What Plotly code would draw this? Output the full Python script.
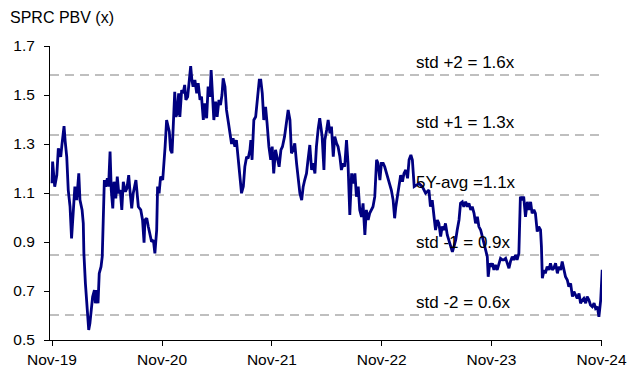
import plotly.graph_objects as go

dates = [
"2019-11-01","2019-11-03","2019-11-10","2019-11-17","2019-11-22","2019-11-30","2019-12-04","2019-12-11","2019-12-15","2019-12-20",
"2019-12-25","2019-12-31","2020-01-05","2020-01-11","2020-01-16","2020-01-22","2020-01-29","2020-02-02","2020-02-09","2020-02-13",
"2020-02-15","2020-02-20","2020-02-24","2020-02-28","2020-03-02","2020-03-06","2020-03-11","2020-03-15","2020-03-21","2020-03-24",
"2020-03-28","2020-04-02","2020-04-06","2020-04-12","2020-04-16","2020-04-19","2020-04-23","2020-04-27","2020-05-03","2020-05-07",
"2020-05-12","2020-05-16","2020-05-21","2020-05-25","2020-05-31","2020-06-05","2020-06-10","2020-06-15","2020-06-20","2020-06-25",
"2020-07-02","2020-07-07","2020-07-13","2020-07-17","2020-07-23","2020-07-28","2020-08-06","2020-08-14","2020-08-22","2020-08-28",
"2020-09-02","2020-09-05","2020-09-11","2020-09-16","2020-09-22","2020-09-27","2020-10-03","2020-10-08","2020-10-14","2020-10-17",
"2020-10-22","2020-10-27","2020-11-03","2020-11-07","2020-11-11","2020-11-16","2020-11-20","2020-11-25","2020-11-29","2020-12-04",
"2020-12-08","2020-12-13","2020-12-17","2020-12-21","2020-12-26","2020-12-30","2021-01-05","2021-01-10","2021-01-15","2021-01-19",
"2021-01-25","2021-01-30","2021-02-04","2021-02-08","2021-02-12","2021-02-18","2021-02-24","2021-03-01","2021-03-07","2021-03-12",
"2021-03-18","2021-03-23","2021-03-29","2021-04-03","2021-04-09","2021-04-13","2021-04-18","2021-04-22","2021-04-28","2021-05-03",
"2021-05-09","2021-05-14","2021-05-19","2021-05-23","2021-05-29","2021-06-03","2021-06-09","2021-06-14","2021-06-20","2021-06-25",
"2021-07-01","2021-07-06","2021-07-12","2021-07-18","2021-07-23","2021-07-29","2021-08-03","2021-08-09","2021-08-14","2021-08-20",
"2021-08-23","2021-08-27","2021-09-02","2021-09-08","2021-09-13","2021-09-20","2021-09-25","2021-09-30","2021-10-05","2021-10-11",
"2021-10-16","2021-10-22","2021-10-28","2021-11-02","2021-11-07","2021-11-13","2021-11-18","2021-11-25","2021-12-01","2021-12-06",
"2021-12-13","2021-12-20","2021-12-25","2021-12-31","2022-01-05","2022-01-11","2022-01-16","2022-01-22","2022-01-27","2022-02-02",
"2022-02-08","2022-02-13","2022-02-18","2022-02-24","2022-03-01","2022-03-07","2022-03-13","2022-03-18","2022-03-24","2022-03-29",
"2022-04-04","2022-04-09","2022-04-15","2022-04-17","2022-04-23","2022-04-26","2022-05-02","2022-05-07","2022-05-13","2022-05-18",
"2022-05-24","2022-05-29","2022-06-04","2022-06-09","2022-06-15","2022-06-20","2022-06-26","2022-07-01","2022-07-07","2022-07-12",
"2022-07-18","2022-07-24","2022-07-29","2022-08-04","2022-08-09","2022-08-15","2022-08-20","2022-08-26","2022-08-31","2022-09-06",
"2022-09-11","2022-09-17","2022-09-22","2022-09-28","2022-10-03","2022-10-09","2022-10-15","2022-10-20","2022-10-26","2022-10-31",
"2022-11-06","2022-11-11","2022-11-17","2022-11-22","2022-11-28","2022-12-03","2022-12-09","2022-12-14","2022-12-18","2022-12-23",
"2022-12-29","2023-01-03","2023-01-09","2023-01-14","2023-01-20","2023-01-26","2023-01-31","2023-02-06","2023-02-11","2023-02-17",
"2023-03-05","2023-03-16","2023-03-27","2023-04-07","2023-04-12","2023-04-18","2023-04-24","2023-04-29","2023-05-05","2023-05-10",
"2023-05-16","2023-05-21","2023-05-27","2023-06-01","2023-06-07","2023-06-12","2023-06-18","2023-06-24","2023-06-29","2023-07-05",
"2023-07-10","2023-07-16","2023-07-21","2023-07-27","2023-08-01","2023-08-07","2023-08-13","2023-08-18","2023-08-24","2023-08-29",
"2023-09-04","2023-09-09","2023-09-15","2023-09-20","2023-09-26","2023-10-01","2023-10-07","2023-10-12","2023-10-18","2023-10-21",
"2023-10-26","2023-10-30","2023-11-04","2023-11-09","2023-11-14","2023-11-20","2023-11-26","2023-12-01","2023-12-07","2023-12-12",
"2023-12-18","2023-12-23","2023-12-29","2024-01-03","2024-01-09","2024-01-14","2024-01-20","2024-01-25","2024-01-31","2024-02-05",
"2024-02-11","2024-02-16","2024-02-22","2024-02-28","2024-03-04","2024-03-10","2024-03-15","2024-03-21","2024-03-26","2024-04-01",
"2024-04-06","2024-04-12","2024-04-15","2024-04-18","2024-04-24","2024-04-28","2024-05-04","2024-05-10","2024-05-15","2024-05-21",
"2024-05-26","2024-06-01","2024-06-07","2024-06-12","2024-06-18","2024-06-23","2024-06-29","2024-07-04","2024-07-10","2024-07-15",
"2024-07-21","2024-07-27","2024-08-01","2024-08-07","2024-08-12","2024-08-18","2024-08-23","2024-08-29","2024-09-03","2024-09-09",
"2024-09-14","2024-09-20","2024-09-25","2024-10-01","2024-10-07","2024-10-12","2024-10-18","2024-10-23","2024-10-29","2024-11-03",
"2024-11-06",
]

pbv = [
1.140,1.228,1.126,1.173,1.282,1.248,1.296,1.373,1.309,1.248,
1.112,1.044,0.915,1.044,1.126,1.071,1.180,1.071,1.031,0.976,
0.854,0.731,0.650,0.609,0.541,0.568,0.622,0.677,0.704,0.650,
0.704,0.650,0.772,0.799,0.840,1.031,1.153,1.126,1.160,1.126,
1.269,1.112,1.037,1.146,1.078,1.167,1.099,1.112,1.031,1.146,
1.105,1.119,1.173,1.112,1.037,1.099,1.153,1.044,1.031,0.990,
0.897,0.990,0.997,0.963,0.935,0.901,0.908,0.854,0.949,1.126,
1.099,1.167,1.153,1.207,1.289,1.398,1.378,1.350,1.276,1.262,
1.371,1.513,1.411,1.425,1.507,1.411,1.520,1.507,1.541,1.480,
1.493,1.561,1.618,1.561,1.534,1.561,1.507,1.548,1.480,1.493,
1.398,1.466,1.405,1.534,1.493,1.602,1.493,1.398,1.473,1.411,
1.480,1.459,1.500,1.568,1.534,1.439,1.391,1.357,1.300,1.323,
1.289,1.316,1.235,1.153,1.099,1.126,1.207,1.248,1.241,1.276,
1.316,1.235,1.398,1.411,1.480,1.561,1.561,1.507,1.398,1.452,
1.384,1.289,1.235,1.289,1.180,1.276,1.248,1.207,1.276,1.289,
1.330,1.398,1.439,1.398,1.262,1.276,1.303,1.221,1.153,1.099,
1.071,1.126,1.153,1.180,1.235,1.296,1.194,1.221,1.180,1.289,
1.364,1.405,1.350,1.330,1.194,1.316,1.357,1.398,1.344,1.371,
1.248,1.330,1.303,1.289,1.248,1.194,1.221,1.207,1.316,1.221,
1.010,1.180,1.139,1.180,1.085,1.126,1.031,1.003,1.058,0.929,
1.031,0.990,1.017,1.031,1.044,1.085,1.235,1.221,1.153,1.221,
1.221,1.207,1.180,1.167,1.139,1.112,1.071,0.997,1.044,1.085,
1.126,1.173,1.146,1.180,1.194,1.160,1.235,1.255,1.235,1.126,
1.139,1.126,1.099,1.112,1.044,1.071,1.003,0.949,0.990,0.976,
0.922,0.963,0.949,0.976,0.929,0.908,0.881,0.860,0.881,0.908,
0.949,0.990,1.058,1.064,1.044,1.064,1.044,1.058,1.031,1.044,
1.017,0.976,1.003,0.963,0.949,0.922,0.895,0.867,0.840,0.758,
0.813,0.799,0.813,0.786,0.806,0.786,0.813,0.833,0.827,0.827,
0.833,0.813,0.793,0.820,0.840,0.827,0.847,0.827,0.854,1.085,
1.071,1.085,1.003,1.064,1.031,1.064,1.017,1.031,1.017,0.942,
0.963,0.949,0.881,0.752,0.786,0.772,0.799,0.786,0.813,0.786,
0.793,0.813,0.772,0.799,0.786,0.820,0.786,0.758,0.745,0.718,
0.731,0.677,0.697,0.684,0.670,0.690,0.650,0.663,0.670,0.650,
0.677,0.663,0.643,0.636,0.650,0.629,0.636,0.595,0.663,0.786,
0.772,
]

band_labels = ["std +2 = 1.6x", "std +1 = 1.3x", "5Y-avg =1.1x", "std -1 = 0.9x", "std -2 = 0.6x"]
band_values = [1.582, 1.337, 1.092, 0.847, 0.602]

y_ticks = [0.5, 0.7, 0.9, 1.1, 1.3, 1.5, 1.7]
x_ticks = ["2019-11-01", "2020-11-01", "2021-11-01", "2022-11-01", "2023-11-01", "2024-11-01"]
x_tick_labels = ["Nov-19", "Nov-20", "Nov-21", "Nov-22", "Nov-23", "Nov-24"]

x_range = ["2019-10-25 08:00", "2024-11-02 08:00"]

FONT = "Liberation Sans, Arial, sans-serif"

fig = go.Figure()

for v in band_values:
    fig.add_trace(go.Scatter(
        x=[x_range[0], x_range[1]], y=[v, v], mode="lines",
        line=dict(color="#bfbfbf", width=2, dash="9px,6px"),
        hoverinfo="skip", showlegend=False))

fig.add_trace(go.Scatter(
    x=dates, y=pbv, mode="lines",
    line=dict(color="#000080", width=2.8),
    showlegend=False))

for lab, v in zip(band_labels, band_values):
    fig.add_annotation(
        x=0.66, xref="paper", y=v, yref="y",
        text=lab, showarrow=False, xanchor="left", yanchor="bottom",
        yshift=1, font=dict(family=FONT, size=17, color="#000000"))

fig.add_annotation(
    x=-42 / 552, xref="paper", y=1 + 28 / 294, yref="paper",
    text="SPRC PBV (x)", showarrow=False, xanchor="left", yanchor="middle",
    font=dict(family=FONT, size=16, color="#000000"))

fig.update_layout(
    width=629, height=369,
    margin=dict(l=50, r=27, t=46, b=29, autoexpand=False),
    paper_bgcolor="white", plot_bgcolor="white",
    font=dict(family=FONT, size=15, color="#000000"),
    showlegend=False,
    xaxis=dict(
        type="date", range=x_range, automargin=False,
        tickvals=x_ticks, ticktext=x_tick_labels,
        showgrid=False, zeroline=False,
        showline=True, linecolor="#000000", linewidth=1,
        ticks="outside", ticklen=5, tickcolor="#000000", tickwidth=1,
        tickfont=dict(family=FONT, size=15.5),
    ),
    yaxis=dict(
        range=[0.5, 1.7], tickvals=y_ticks, tickformat=".1f", automargin=False,
        showgrid=False, zeroline=False,
        showline=True, linecolor="#000000", linewidth=1,
        ticks="outside", ticklen=5, tickcolor="#000000", tickwidth=1,
        ticklabelstandoff=6,
        tickfont=dict(family=FONT, size=15.5),
    ),
)

fig.write_html("out.html")
